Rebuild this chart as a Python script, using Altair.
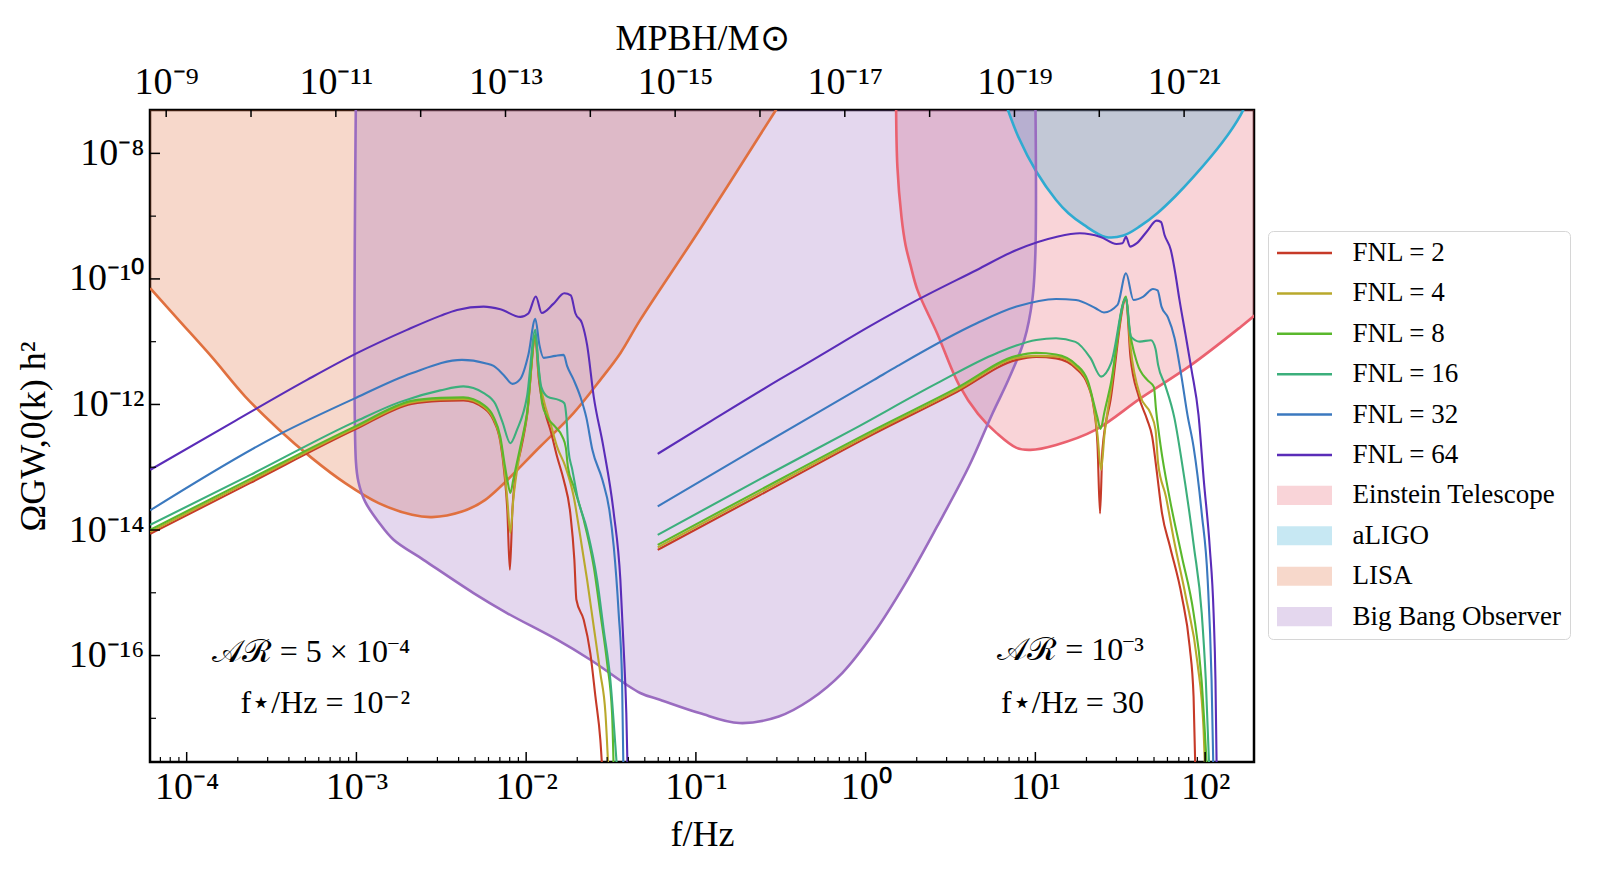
import altair as alt
import numpy as np
import pandas as pd

FONT = "Liberation Serif"

# ---------------- frame limits ----------------
F_MIN, F_MAX = 6.08e-5, 194.1          # f / Hz
OM_MIN, OM_MAX = 2.014e-18, 4.909e-8   # Omega_GW h^2
M_MIN, M_MAX = 1.50e-22, 1.552e-9      # M_PBH / M_sun (top axis, reversed)

x_major_exp = [-4, -3, -2, -1, 0, 1, 2]
x_minor_mult = [2, 3, 4, 5, 6, 7, 8, 9]
y_major_exp = [-8, -10, -12, -14, -16]
y_minor_exp = [-9, -11, -13, -15, -17]
m_tick_exp = [-9, -10, -11, -12, -13, -14, -15, -16, -17, -18, -19, -20, -21]
m_label_exp = [-9, -11, -13, -15, -17, -19, -21]

fnl_names = ["FNL = 2", "FNL = 4", "FNL = 8", "FNL = 16", "FNL = 32", "FNL = 64"]
fnl_colors = ["#c63a28", "#b9a92c", "#5ab82c", "#3caf7c", "#3b79bf", "#5a2cb8"]
det_names = ["Einstein Telescope", "aLIGO", "LISA", "Big Bang Observer"]
det_line_colors = ["#ea616f", "#2fabd1", "#e0703f", "#9a6cc0"]
det_fill_colors = ["rgba(234,97,111,0.27)", "rgba(47,171,209,0.27)",
                   "rgba(224,112,63,0.27)", "rgba(154,108,192,0.27)"]

# ---------------- detector sensitivity curves (log10 f, log10 Omega) ----------------
et_logf = [0.179, 0.187, 0.211, 0.235, 0.264, 0.305, 0.421, 0.550, 0.662, 0.772, 0.889,
           0.971, 1.122, 1.354, 1.619, 1.914, 2.209, 2.338]
et_logo = [-7.100, -8.212, -9.008, -9.459, -9.777, -10.175, -10.865, -11.688, -12.150,
           -12.457, -12.692, -12.723, -12.644, -12.405, -11.903, -11.378, -10.765, -10.478]

aligo_logf = [0.818, 0.900, 1.007, 1.122, 1.195, 1.286, 1.413, 1.519, 1.619, 1.720, 1.826,
              1.926, 2.103, 2.209, 2.250]
aligo_logo = [-7.150, -7.739, -8.296, -8.742, -8.954, -9.140, -9.331, -9.308, -9.156, -8.949,
              -8.679, -8.392, -7.819, -7.389, -7.150]

lisa_logf = [-4.215, -4.048, -3.851, -3.655, -3.459, -3.262, -3.066, -2.869, -2.672, -2.555,
             -2.378, -2.241, -1.917, -1.721, -1.563, -1.445, -1.328, -0.979, -0.535, -0.479]
lisa_logo = [-10.148, -10.653, -11.247, -11.874, -12.394, -12.855, -13.254, -13.572, -13.758,
             -13.795, -13.706, -13.520, -12.670, -12.139, -11.608, -11.183, -10.653, -9.220,
             -7.336, -7.100]

bbo_logf = [-3.003, -3.003, -2.988, -2.948, -2.870, -2.781, -2.605, -2.310, -2.113, -1.818,
            -1.622, -1.328, -1.212, -0.979, -0.745, -0.512, -0.326, -0.138, 0.048, 0.235,
            0.421, 0.608, 0.748, 0.841, 0.935, 0.982, 1.000, 1.000]
bbo_logo = [-7.100, -12.910, -13.234, -13.552, -13.870, -14.156, -14.475, -15.005, -15.323,
            -15.748, -16.067, -16.597, -16.704, -16.916, -17.075, -16.970, -16.704, -16.279,
            -15.642, -14.846, -13.944, -12.989, -12.139, -11.608, -10.971, -10.334, -9.591,
            -7.100]

# ---------------- Omega_GW curves, f* = 1e-2 Hz (left) ----------------
f2_left_logf = [-4.215, -3.625, -3.007, -2.675, -2.506, -2.370, -2.251, -2.192, -2.152, -2.129,
                -2.111, -2.096, -2.081, -2.058, -2.034, -1.995, -1.946, -1.926, -1.887, -1.857,
                -1.818, -1.779, -1.740, -1.716, -1.704, -1.661, -1.622, -1.592, -1.563, -1.548]
f2_left_logo = [-14.061, -13.249, -12.397, -11.991, -11.943, -11.935, -12.055, -12.254, -12.596,
                -13.074, -13.679, -14.634, -13.679, -13.042, -12.755, -12.182, -10.940, -11.577,
                -12.139, -12.405, -12.830, -13.201, -13.731, -14.475, -15.112, -15.430, -15.961,
                -16.652, -17.341, -17.978]

f4_left_logf = [-4.215, -3.625, -3.007, -2.675, -2.506, -2.370, -2.251, -2.192, -2.152, -2.129,
                -2.111, -2.093, -2.076, -2.034, -1.995, -1.946, -1.926, -1.897, -1.857, -1.818,
                -1.769, -1.720, -1.681, -1.641, -1.602, -1.563, -1.533, -1.513]
f4_left_logo = [-14.029, -13.217, -12.373, -11.967, -11.919, -11.911, -12.031, -12.230, -12.564,
                -13.010, -13.520, -14.045, -13.520, -12.723, -12.166, -10.924, -11.529, -11.927,
                -12.298, -12.671, -12.989, -13.467, -14.104, -14.793, -15.537, -16.279, -16.916,
                -17.978]

f8_left_logf = [-4.215, -3.625, -3.007, -2.675, -2.506, -2.370, -2.251, -2.192, -2.152, -2.129,
                -2.111, -2.093, -2.076, -2.034, -1.995, -1.946, -1.926, -1.906, -1.877, -1.828,
                -1.787, -1.766, -1.754, -1.720, -1.661, -1.602, -1.563, -1.523, -1.494, -1.483]
f8_left_logo = [-13.997, -13.185, -12.349, -11.943, -11.895, -11.887, -12.007, -12.198, -12.516,
                -12.914, -13.201, -13.408, -13.201, -12.671, -12.139, -10.892, -11.449, -11.980,
                -12.193, -12.357, -12.511, -12.692, -12.994, -13.308, -13.838, -14.582, -15.324,
                -16.120, -16.916, -17.978]

f16_left_logf = [-4.215, -3.625, -3.007, -2.741, -2.506, -2.370, -2.252, -2.182, -2.140, -2.093,
                 -2.054, -1.995, -1.946, -1.928, -1.911, -1.875, -1.809, -1.775, -1.763, -1.751,
                 -1.728, -1.698, -1.641, -1.582, -1.543, -1.504, -1.474, -1.460]
f16_left_logo = [-13.918, -13.121, -12.273, -11.959, -11.776, -11.712, -11.816, -11.990, -12.277,
                 -12.617, -12.405, -11.874, -10.812, -11.370, -11.720, -11.874, -11.927, -11.980,
                 -12.198, -12.723, -13.042, -13.472, -13.997, -14.793, -15.590, -16.386, -17.448,
                 -17.978]

f32_left_logf = [-4.215, -3.459, -3.007, -2.675, -2.378, -2.241, -2.192, -2.133, -2.081,
                 -2.034, -1.987, -1.946, -1.922, -1.897, -1.828, -1.779, -1.759, -1.720, -1.681,
                 -1.645, -1.610, -1.551, -1.510, -1.484, -1.455, -1.435, -1.426]
f32_left_logo = [-13.687, -12.484, -11.900, -11.503, -11.290, -11.343, -11.386, -11.529,
                 -11.672, -11.593, -11.210, -10.637, -11.051, -11.258, -11.226, -11.210, -11.386,
                 -11.609, -11.874, -12.214, -12.723, -13.201, -13.679, -14.263, -15.324, -16.386,
                 -17.978]

f64_left_logf = [-4.215, -3.714, -3.291, -2.997, -2.702, -2.506, -2.407, -2.251, -2.152, -2.034,
                 -1.987, -1.943, -1.908, -1.840, -1.775, -1.737, -1.710, -1.671, -1.641, -1.602,
                 -1.545, -1.484, -1.445, -1.426, -1.410, -1.401]
f64_left_logo = [-13.042, -12.261, -11.609, -11.183, -10.812, -10.589, -10.494, -10.441, -10.483,
                 -10.605, -10.550, -10.279, -10.542, -10.398, -10.228, -10.263, -10.547, -10.706,
                 -11.051, -11.874, -12.676, -13.731, -14.793, -15.856, -16.916, -17.978]

# ---------------- Omega_GW curves, f* = 30 Hz (right) ----------------
f2_right_logf = [-1.225, -0.620, 0.049, 0.539, 0.889, 1.005, 1.122, 1.239, 1.309, 1.344, 1.366,
                 1.381, 1.395, 1.443, 1.534, 1.560, 1.609, 1.659, 1.688, 1.714, 1.746, 1.793,
                 1.863, 1.909, 1.932, 1.944]
f2_right_logo = [-14.316, -13.440, -12.468, -11.799, -11.290, -11.242, -11.266, -11.426, -11.688,
                 -12.054, -12.644, -13.736, -12.723, -11.927, -10.319, -11.238, -11.874, -12.246,
                 -12.511, -13.042, -13.731, -14.263, -15.060, -15.856, -16.652, -17.978]

f4_right_logf = [-1.225, -0.620, 0.049, 0.539, 0.889, 1.005, 1.122, 1.239, 1.309, 1.344, 1.366,
                 1.387, 1.407, 1.443, 1.534, 1.560, 1.619, 1.678, 1.708, 1.723, 1.769, 1.816,
                 1.886, 1.955, 1.991, 2.002]
f4_right_logo = [-14.276, -13.400, -12.436, -11.768, -11.258, -11.226, -11.234, -11.394, -11.656,
                 -12.023, -12.484, -13.042, -12.484, -11.800, -10.303, -11.078, -11.874, -12.139,
                 -12.405, -12.935, -13.467, -14.156, -15.060, -16.120, -17.182, -17.978]

f8_right_logf = [-1.225, -0.620, 0.049, 0.539, 0.889, 1.005, 1.122, 1.239, 1.309, 1.344, 1.366,
                 1.384, 1.407, 1.443, 1.534, 1.550, 1.600, 1.659, 1.698, 1.711, 1.737, 1.793,
                 1.863, 1.932, 1.979, 2.014]
f8_right_logo = [-14.236, -13.360, -12.405, -11.736, -11.226, -11.179, -11.203, -11.362, -11.625,
                 -11.975, -12.214, -12.389, -12.118, -11.688, -10.282, -10.706, -11.343, -11.609,
                 -11.720, -12.086, -12.644, -13.520, -14.422, -15.324, -16.386, -17.978]

f16_right_logf = [-1.225, -0.620, -0.068, 0.422, 0.772, 1.005, 1.122, 1.236, 1.325, 1.387, 1.446,
                  1.534, 1.563, 1.616, 1.681, 1.708, 1.723, 1.764, 1.819, 1.861, 1.934, 1.980,
                  2.004, 2.027]
f16_right_logo = [-14.077, -13.185, -12.389, -11.661, -11.183, -10.972, -10.945, -11.003, -11.263,
                  -11.556, -11.343, -10.303, -10.919, -10.999, -10.976, -11.115, -11.370, -11.688,
                  -12.214, -12.882, -14.263, -15.324, -16.386, -17.978]

f32_right_logf = [-1.225, -0.620, 0.049, 0.189, 0.655, 0.889, 1.122, 1.239, 1.355, 1.404, 1.484,
                  1.534, 1.578, 1.636, 1.693, 1.720, 1.743, 1.781, 1.820, 1.861, 1.896, 1.932,
                  1.980, 2.015, 2.038, 2.050]
f32_right_logo = [-13.625, -12.660, -11.609, -11.386, -10.706, -10.441, -10.319, -10.335, -10.467,
                  -10.534, -10.414, -9.910, -10.335, -10.282, -10.160, -10.183, -10.441, -10.613,
                  -10.940, -11.561, -12.166, -12.676, -13.731, -14.793, -16.386, -17.978]

f64_right_logf = [-1.225, -0.909, -0.512, -0.278, 0.028, 0.305, 0.655, 0.889, 1.122, 1.262, 1.384,
                  1.478, 1.513, 1.534, 1.558, 1.596, 1.659, 1.714, 1.740, 1.761, 1.798, 1.826,
                  1.849, 1.885, 1.920, 1.961, 1.992, 2.027, 2.050, 2.061, 2.069]
f64_right_logo = [-12.787, -12.261, -11.609, -11.238, -10.749, -10.335, -9.857, -9.538, -9.331,
                  -9.273, -9.331, -9.443, -9.432, -9.331, -9.486, -9.435, -9.236, -9.072, -9.093,
                  -9.300, -9.538, -9.937, -10.335, -10.892, -11.449, -12.166, -13.201, -14.263,
                  -15.324, -16.386, -17.978]

# ---------------- annotations ----------------
note_text = ["𝒜ℛ = 5 × 10⁻⁴", "f⋆/Hz = 10⁻²", "𝒜ℛ = 10⁻³", "f⋆/Hz = 30"]
note_f = [2.07e-3, 2.07e-3, 43.6, 43.6]
note_omega = [1.14e-16, 1.76e-17, 1.23e-16, 1.76e-17]

# ---------------- build tables ----------------
def rows_for(series, seg, logf, logo):
    return [{"series": series, "seg": seg, "idx": i, "f": 10.0 ** a, "omega": 10.0 ** b}
            for i, (a, b) in enumerate(zip(logf, logo))]

curve_rows = []
curve_sets = [
    (f2_left_logf, f2_left_logo, f2_right_logf, f2_right_logo),
    (f4_left_logf, f4_left_logo, f4_right_logf, f4_right_logo),
    (f8_left_logf, f8_left_logo, f8_right_logf, f8_right_logo),
    (f16_left_logf, f16_left_logo, f16_right_logf, f16_right_logo),
    (f32_left_logf, f32_left_logo, f32_right_logf, f32_right_logo),
    (f64_left_logf, f64_left_logo, f64_right_logf, f64_right_logo),
]
for name, (lf, lo, rf, ro) in zip(fnl_names, curve_sets):
    curve_rows += rows_for(name, name + " L", lf, lo)
    curve_rows += rows_for(name, name + " R", rf, ro)
curves_df = pd.DataFrame(curve_rows)

det_rows = []
for name, lf, lo in zip(det_names, [et_logf, aligo_logf, lisa_logf, bbo_logf],
                        [et_logo, aligo_logo, lisa_logo, bbo_logo]):
    det_rows += rows_for(name, name, lf, lo)
det_df = pd.DataFrame(det_rows)

all_names = fnl_names + det_names
legend_df = pd.DataFrame({"series": all_names, "f": [1e-7] * len(all_names),
                          "omega": [1e-12] * len(all_names)})
notes_df = pd.DataFrame({"text": note_text, "f": note_f, "omega": note_omega})

x_major_df = pd.DataFrame({"f": [10.0 ** e for e in x_major_exp]})
x_minor_vals = [m * 10.0 ** e for e in range(-5, 3) for m in x_minor_mult]
x_minor_df = pd.DataFrame({"f": [v for v in x_minor_vals if F_MIN <= v <= F_MAX]})
y_major_df = pd.DataFrame({"omega": [10.0 ** e for e in y_major_exp]})
y_minor_df = pd.DataFrame({"omega": [10.0 ** e for e in y_minor_exp]})
m_tick_df = pd.DataFrame({"M": [10.0 ** e for e in m_tick_exp]})

# ---------------- scales / axes ----------------
SUP = str.maketrans("-0123456789", "⁻⁰¹²³⁴⁵⁶⁷⁸⁹")

def pow_expr(exps):
    parts = [f"round(log(datum.value)/LN10) == {e} ? '10{str(e).translate(SUP)}'" for e in exps]
    return " : ".join(parts) + " : ''"

xs = alt.Scale(type="log", domain=[F_MIN, F_MAX])
ys = alt.Scale(type="log", domain=[OM_MIN, OM_MAX])

common_axis = dict(ticks=False, domain=False, grid=False, labelFont=FONT, labelFontSize=38,
                   labelColor="black", labelFlush=False, labelOverlap=False, titleFont=FONT,
                   titleFontSize=36, titleFontWeight="normal", titleColor="black")
x_axis = alt.Axis(values=[10.0 ** e for e in x_major_exp], labelExpr=pow_expr(x_major_exp),
                  labelPadding=6, title="f/Hz", titlePadding=11, **common_axis)
y_axis = alt.Axis(values=[10.0 ** e for e in y_major_exp], labelExpr=pow_expr(y_major_exp),
                  labelPadding=6, title="ΩGW,0(k) h²", titlePadding=16, **common_axis)
m_axis = alt.Axis(orient="top", values=[10.0 ** e for e in m_label_exp],
                  labelExpr=pow_expr(m_label_exp), labelPadding=9, title="MPBH/M⊙",
                  titlePadding=6, **common_axis)

X = alt.X("f:Q", scale=xs, axis=x_axis)
Y = alt.Y("omega:Q", scale=ys, axis=y_axis, stack=None)

stroke_scale = alt.Scale(domain=all_names, range=fnl_colors + det_line_colors)
fill_scale = alt.Scale(domain=all_names, range=fnl_colors + det_fill_colors)
LINE_SYM = "M-2.5,-0.115H2.5V0.115H-2.5Z"
PATCH_SYM = "M-2.5,-0.87H2.5V0.87H-2.5Z"
shape_scale = alt.Scale(domain=all_names, range=[LINE_SYM] * 6 + [PATCH_SYM] * 4)

leg = alt.Legend(orient="none", legendX=1118, legendY=121, title=None, symbolSize=484,
                 symbolStrokeWidth=0, symbolOpacity=1, symbolOffset=14.5, labelOffset=34.5,
                 labelFont=FONT, labelFontSize=27, labelColor="black", labelLimit=400,
                 rowPadding=12.4, padding=8.5, strokeColor="#d6d6d6", fillColor="white",
                 cornerRadius=5)

# ---------------- layers ----------------
areas = alt.Chart(det_df).mark_area(clip=True, interpolate="catmull-rom").encode(
    x=X, y=Y, y2=alt.value(0),
    fill=alt.Fill("series:N", scale=fill_scale, legend=leg),
)
edges = alt.Chart(det_df).mark_line(clip=True, strokeWidth=2.6, interpolate="catmull-rom").encode(
    x=X, y=Y,
    stroke=alt.Stroke("series:N", scale=stroke_scale, legend=None),
    detail="seg:N", order="idx:Q",
)
curves = alt.Chart(curves_df).mark_line(clip=True, strokeWidth=2.1, interpolate="monotone").encode(
    x=X, y=Y,
    stroke=alt.Stroke("series:N", scale=stroke_scale, legend=None),
    detail="seg:N", order="idx:Q",
)
legend_pts = alt.Chart(legend_df).mark_point(clip=True, filled=True, opacity=1).encode(
    x=X, y=Y,
    fill=alt.Fill("series:N", scale=fill_scale, legend=leg),
    shape=alt.Shape("series:N", scale=shape_scale, legend=leg),
)
notes = alt.Chart(notes_df).mark_text(align="right", baseline="middle", font=FONT,
                                      fontSize=32, color="black").encode(
    x=X, y=Y, text="text:N")

xt_major = alt.Chart(x_major_df).mark_rule(color="black", strokeWidth=1.5).encode(
    x=X, y=alt.value(652), y2=alt.value(642))
xt_minor = alt.Chart(x_minor_df).mark_rule(color="black", strokeWidth=1.2).encode(
    x=X, y=alt.value(652), y2=alt.value(647))
yt_major = alt.Chart(y_major_df).mark_rule(color="black", strokeWidth=1.5).encode(
    y=Y, x=alt.value(0), x2=alt.value(10))
yt_minor = alt.Chart(y_minor_df).mark_rule(color="black", strokeWidth=1.2).encode(
    y=Y, x=alt.value(0), x2=alt.value(6))

main = alt.layer(areas, edges, curves, legend_pts, notes, xt_major, xt_minor, yt_major, yt_minor)

top = alt.Chart(m_tick_df).mark_rule(color="black", strokeWidth=1.5).encode(
    x=alt.X("M:Q", scale=alt.Scale(type="log", domain=[M_MIN, M_MAX], reverse=True), axis=m_axis),
    y=alt.value(0), y2=alt.value(7),
)

chart = alt.layer(main, top).resolve_scale(x="independent").properties(
    width=1104, height=652,
    padding={"left": 150, "top": 110, "right": 344, "bottom": 115},
    autosize=alt.AutoSizeParams(type="none"),
    background="white",
).configure_view(stroke="black", strokeWidth=2.5)

chart.save("out.html", embed_options={"renderer": "svg", "actions": False})
